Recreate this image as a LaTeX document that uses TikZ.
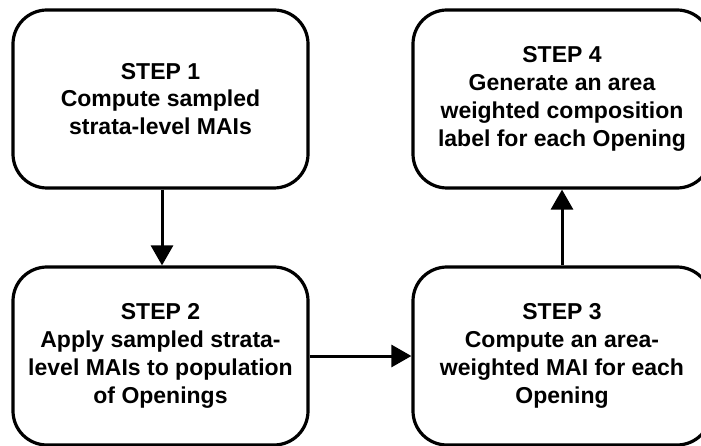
\documentclass[tikz,border=0pt]{standalone}
\usepackage{fontspec}
\setmainfont{Liberation Sans}
\usetikzlibrary{arrows.meta}
\begin{document}
\begin{tikzpicture}[x=1pt,y=1pt,
  stepbox/.style={draw=black, line width=3.2pt, rounded corners=34pt,
    minimum width=295pt, minimum height=178pt, align=center,
    font=\fontsize{23}{27.8}\selectfont\bfseries, inner sep=0pt},
  flow/.style={line width=3pt, -{Triangle[width=22pt,length=20pt]}}]
\useasboundingbox (0,0) rectangle (701,-446);
\clip (0,0) rectangle (701,-446);
\node[stepbox] (s1) at (160.5,-99) {STEP 1\\Compute sampled\\strata-level MAIs};
\node[stepbox, minimum width=298pt] (s4) at (562,-99) {STEP 4\\Generate an area\\weighted composition\\label for each Opening};
\node[stepbox] (s2) at (160.5,-356) {STEP 2\\Apply sampled strata-\\level MAIs to population\\of Openings};
\node[stepbox, minimum width=298pt] (s3) at (562,-356) {STEP 3\\Compute an area-\\weighted MAI for each\\Opening};
\draw[flow] (s1.south -| 162,0) -- (s2.north -| 162,0);
\draw[flow] (s2.east) -- (s3.west);
\draw[flow] (s3.north) -- (s4.south);
\end{tikzpicture}
\end{document}
